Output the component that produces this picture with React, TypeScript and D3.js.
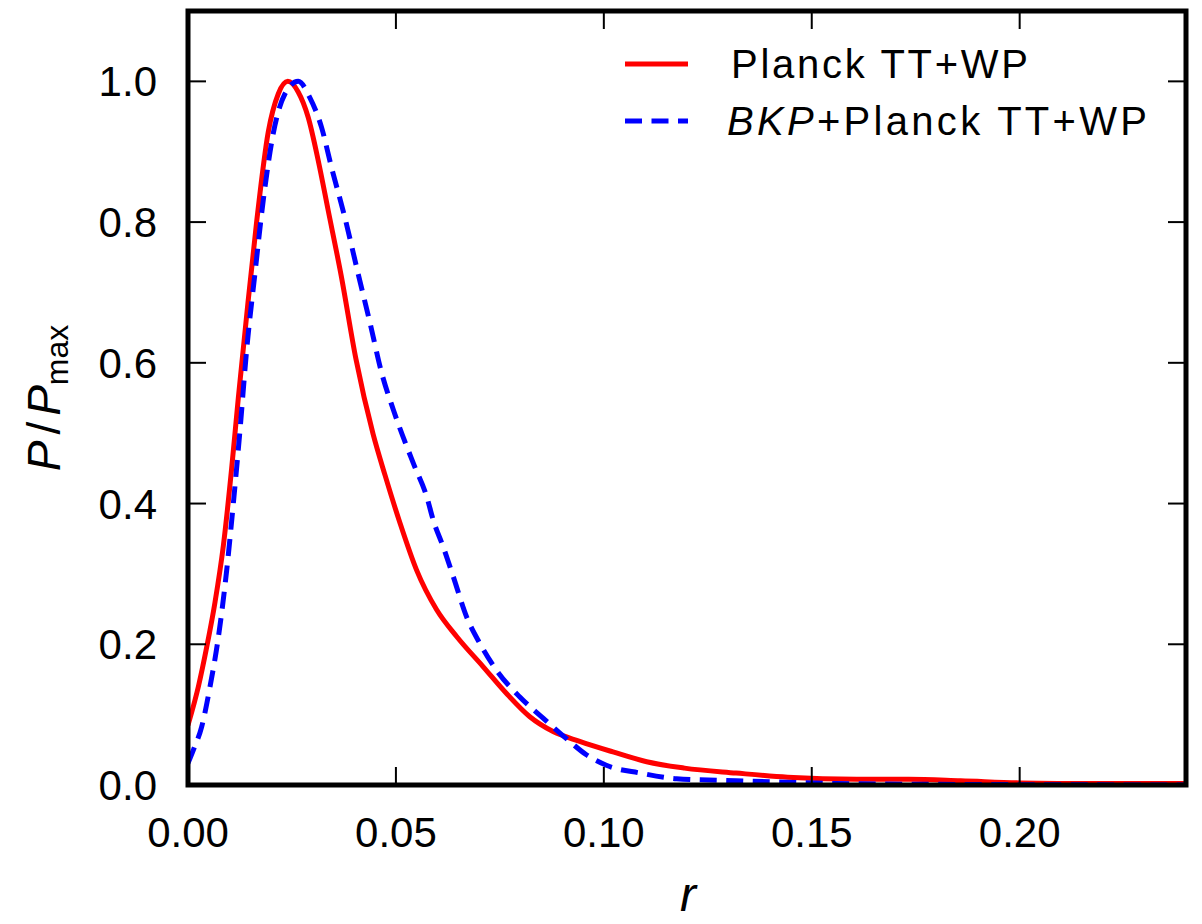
import React from "react";
import * as d3 from "d3";

const rRed = [0, 0.0025, 0.0045, 0.0065, 0.0085, 0.0105, 0.0121, 0.0141, 0.0165, 0.0193, 0.0217, 0.024, 0.0265, 0.0289, 0.0313, 0.0337, 0.0369, 0.0404, 0.0445, 0.0474, 0.051, 0.055, 0.0598, 0.0646, 0.071, 0.0766, 0.0822, 0.0878, 0.0942, 0.1022, 0.1103, 0.1194, 0.1318, 0.1442, 0.1608, 0.1733, 0.1858, 0.2002, 0.218, 0.24];
const pRed = [0.085, 0.14, 0.196, 0.26, 0.34, 0.45, 0.55, 0.667, 0.8, 0.928, 0.982, 1.0, 0.985, 0.949, 0.888, 0.817, 0.722, 0.605, 0.499, 0.44, 0.372, 0.305, 0.249, 0.211, 0.168, 0.13, 0.097, 0.076, 0.062, 0.047, 0.033, 0.024, 0.017, 0.011, 0.008, 0.008, 0.006, 0.003, 0.002, 0.002];

const rBlue = [0, 0.0013, 0.0033, 0.0053, 0.0073, 0.0093, 0.0109, 0.0125, 0.0141, 0.0161, 0.0181, 0.0205, 0.0233, 0.0265, 0.0293, 0.0321, 0.0345, 0.0377, 0.0409, 0.0438, 0.0466, 0.0494, 0.0542, 0.0574, 0.059, 0.0614, 0.0638, 0.067, 0.0702, 0.0742, 0.0798, 0.0854, 0.091, 0.0958, 0.1006, 0.1087, 0.1175, 0.1318, 0.144, 0.156, 0.18, 0.24];
const pBlue = [0.031, 0.05, 0.083, 0.14, 0.21, 0.305, 0.4, 0.504, 0.618, 0.727, 0.831, 0.926, 0.982, 1.0, 0.977, 0.935, 0.878, 0.807, 0.727, 0.656, 0.585, 0.533, 0.457, 0.41, 0.376, 0.338, 0.296, 0.239, 0.201, 0.163, 0.125, 0.095, 0.066, 0.043, 0.028, 0.017, 0.009, 0.006, 0.004, 0.002, 0.001, 0.0];

const xTicks = [0, 0.05, 0.1, 0.15, 0.2];
const xTickLabels = ["0.00", "0.05", "0.10", "0.15", "0.20"];
const yTicks = [0, 0.2, 0.4, 0.6, 0.8, 1.0];
const yTickLabels = ["0.0", "0.2", "0.4", "0.6", "0.8", "1.0"];

const seriesNames = ["Planck TT+WP", "+Planck TT+WP"];

const FONT = "'Liberation Sans', Arial, sans-serif";

export default function App() {
  const left = 188, right = 1186, top = 11, bottom = 785;
  const x = d3.scaleLinear().domain([0, 0.24]).range([left, right]);
  const y = d3.scaleLinear().domain([0, 1.1]).range([bottom, top]);

  const line = d3
    .line<[number, number]>()
    .x((d) => x(d[0]))
    .y((d) => y(d[1]))
    .curve(d3.curveMonotoneX);

  const redPts: [number, number][] = rRed.map((r, i) => [r, pRed[i]]);
  const bluePts: [number, number][] = rBlue.map((r, i) => [r, pBlue[i]]);

  const tickLen = 18;
  const fs = 42;

  return (
    <svg
      width={1202}
      height={924}
      style={{ position: "absolute", left: 0, top: 0, background: "#fff" }}
      fontFamily={FONT}
    >
      <rect x={0} y={0} width={1202} height={924} fill="#fff" />
      <defs>
        <clipPath id="plotclip">
          <rect x={left} y={top} width={right - left} height={bottom - top} />
        </clipPath>
      </defs>
      <g clipPath="url(#plotclip)">
        <path d={line(redPts) || ""} fill="none" stroke="#ff0000" strokeWidth={5} strokeLinejoin="round" />
        <path
          d={line(bluePts) || ""}
          fill="none"
          stroke="#0000ff"
          strokeWidth={5}
          strokeDasharray="17,9.5"
        />
      </g>

      {xTicks.map((t, i) => (
        <g key={"xt" + i}>
          <line x1={x(t)} x2={x(t)} y1={bottom} y2={bottom - tickLen} stroke="#000" strokeWidth={2} />
          <line x1={x(t)} x2={x(t)} y1={top} y2={top + tickLen} stroke="#000" strokeWidth={2} />
          <text x={x(t)} y={847} textAnchor="middle" fontSize={fs} fill="#000">
            {xTickLabels[i]}
          </text>
        </g>
      ))}
      {yTicks.map((t, i) => (
        <g key={"yt" + i}>
          <line x1={left} x2={left + tickLen} y1={y(t)} y2={y(t)} stroke="#000" strokeWidth={2} />
          <line x1={right} x2={right - tickLen} y1={y(t)} y2={y(t)} stroke="#000" strokeWidth={2} />
          <text x={157} y={y(t) + 15} textAnchor="end" fontSize={fs} fill="#000">
            {yTickLabels[i]}
          </text>
        </g>
      ))}

      <rect x={left} y={top} width={right - left} height={bottom - top} fill="none" stroke="#000" strokeWidth={5} />

      <text x={688} y={911} textAnchor="middle" fontSize={48} fontStyle="italic" fill="#000">
        r
      </text>
      <text transform="translate(60,398) rotate(-90)" textAnchor="middle" fontSize={46} fill="#000">
        <tspan fontStyle="italic">P</tspan>
        <tspan dx={6}>/</tspan>
        <tspan dx={6} fontStyle="italic">P</tspan>
        <tspan fontSize={32} dy={8}>max</tspan>
      </text>

      <line x1={625} x2={688} y1={64} y2={64} stroke="#ff0000" strokeWidth={5} />
      <text x={731} y={78} fontSize={40} fill="#000" textLength={297} lengthAdjust="spacing">
        {seriesNames[0]}
      </text>
      <line x1={625} x2={688} y1={121} y2={121} stroke="#0000ff" strokeWidth={5} strokeDasharray="17,9.5" />
      <text x={727} y={135} fontSize={40} fill="#000" textLength={420} lengthAdjust="spacing">
        <tspan fontStyle="italic">BKP</tspan>
        <tspan>{seriesNames[1]}</tspan>
      </text>
    </svg>
  );
}
